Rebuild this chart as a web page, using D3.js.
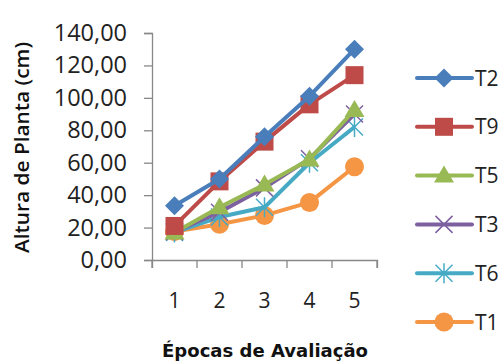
<!DOCTYPE html>
<html>
<head>
<meta charset="utf-8">
<script src="https://cdn.jsdelivr.net/npm/d3@7"></script>
<style>
  html, body { margin: 0; padding: 0; background: #fff; }
  svg { display: block; }
</style>
</head>
<body>
<svg id="chart" width="503" height="361"></svg>
<script>
// Plant height per evaluation period, one series per treatment
const epocas = ["1", "2", "3", "4", "5"];
const seriesNames = ["T2", "T9", "T5", "T3", "T6", "T1"];
const t2 = [33.5, 50.0, 76.0, 101.0, 130.0];
const t9 = [21.0, 48.5, 73.0, 96.0, 114.0];
const t5 = [17.0, 32.5, 46.5, 62.0, 92.5];
const t3 = [17.5, 29.5, 44.5, 62.5, 90.0];
const t6 = [17.0, 26.5, 32.5, 60.0, 82.0];
const t1 = [17.5, 22.0, 27.5, 35.5, 57.5];
const yTicks = [0, 20, 40, 60, 80, 100, 120, 140];

const seriesValues = [t2, t9, t5, t3, t6, t1];
const colors = ["#4a7ebb", "#be4b48", "#98b954", "#7d60a0", "#46aac5", "#f59645"];
const markers = ["diamond", "square", "triangle", "cross", "star", "circle"];

const svg = d3.select("#chart");
const plot = { left: 152, right: 377, top: 33, bottom: 260 };

const x = d3.scaleBand().domain(epocas).range([plot.left, plot.right]);
const y = d3.scaleLinear().domain([0, 140]).range([plot.bottom, plot.top]);

// Axes
const yAxis = d3.axisLeft(y).tickValues(yTicks).tickSize(8).tickPadding(17)
  .tickFormat(d => d3.format(".2f")(d).replace(".", ","));
const gy = svg.append("g").attr("transform", `translate(${plot.left},0)`).call(yAxis);
gy.selectAll("text").attr("font-family", "'Open Sans', sans-serif").attr("font-size", 23.5)
  .attr("fill", "#222");

const xAxis = d3.axisBottom(x).tickSize(8).tickSizeOuter(8).tickPadding(25);
const gx = svg.append("g").attr("transform", `translate(0,${plot.bottom})`).call(xAxis);
gx.selectAll(".tick line").remove();
gx.selectAll("text").attr("font-family", "'Open Sans', sans-serif").attr("font-size", 21)
  .attr("fill", "#222");
// tick marks at category boundaries
gx.selectAll(".bound").data(epocas.concat(["end"])).enter().append("line")
  .attr("x1", (d, i) => plot.left + i * x.bandwidth())
  .attr("x2", (d, i) => plot.left + i * x.bandwidth())
  .attr("y1", 0).attr("y2", 8);

[gx, gy].forEach(g => {
  g.select(".domain").attr("stroke", "#888").attr("stroke-width", 1.3);
  g.selectAll("line").attr("stroke", "#888").attr("stroke-width", 1.3);
});

// Axis titles
svg.append("text")
  .attr("x", 265).attr("y", 357)
  .attr("text-anchor", "middle")
  .attr("font-family", "'DejaVu Sans', sans-serif").attr("font-weight", "bold")
  .attr("font-size", 18).attr("fill", "#111")
  .attr("textLength", 206).attr("lengthAdjust", "spacingAndGlyphs")
  .text("Épocas de Avaliação");

svg.append("text")
  .attr("transform", "translate(29,147.5) rotate(-90)")
  .attr("text-anchor", "middle")
  .attr("font-family", "'Open Sans', sans-serif").attr("font-weight", 600)
  .attr("font-size", 19).attr("fill", "#111")
  .attr("textLength", 211).attr("lengthAdjust", "spacingAndGlyphs")
  .text("Altura de Planta (cm)");

// Marker drawing
function drawMarker(g, type, color, cx, cy) {
  if (type === "diamond") {
    g.append("path").attr("d", `M${cx},${cy - 9.5}L${cx + 9.5},${cy}L${cx},${cy + 9.5}L${cx - 9.5},${cy}Z`)
      .attr("fill", color);
  } else if (type === "square") {
    g.append("rect").attr("x", cx - 9).attr("y", cy - 9).attr("width", 18).attr("height", 18)
      .attr("fill", color);
  } else if (type === "triangle") {
    g.append("path").attr("d", `M${cx},${cy - 10}L${cx + 10},${cy + 7}L${cx - 10},${cy + 7}Z`)
      .attr("fill", color);
  } else if (type === "cross") {
    g.append("path").attr("d", `M${cx - 8.5},${cy - 8.5}L${cx + 8.5},${cy + 8.5}M${cx - 8.5},${cy + 8.5}L${cx + 8.5},${cy - 8.5}`)
      .attr("stroke", color).attr("stroke-width", 1.5).attr("fill", "none");
  } else if (type === "star") {
    g.append("path").attr("d", `M${cx - 8.5},${cy - 8.5}L${cx + 8.5},${cy + 8.5}M${cx - 8.5},${cy + 8.5}L${cx + 8.5},${cy - 8.5}M${cx},${cy - 10}L${cx},${cy + 10}`)
      .attr("stroke", color).attr("stroke-width", 1.5).attr("fill", "none");
  } else if (type === "circle") {
    g.append("circle").attr("cx", cx).attr("cy", cy).attr("r", 9.5).attr("fill", color);
  }
}

const line = d3.line()
  .x((d, i) => x(epocas[i]) + x.bandwidth() / 2)
  .y(d => y(d));

// Series, drawn last-to-first so T2 sits on top
for (let s = seriesValues.length - 1; s >= 0; s--) {
  const g = svg.append("g");
  g.append("path").datum(seriesValues[s]).attr("d", line)
    .attr("fill", "none").attr("stroke", colors[s]).attr("stroke-width", 4)
    .attr("stroke-linejoin", "round");
  seriesValues[s].forEach((v, i) => {
    drawMarker(g, markers[s], colors[s], x(epocas[i]) + x.bandwidth() / 2, y(v));
  });
}

// Legend
const legendY0 = 78, legendStep = 48.8;
seriesNames.forEach((name, s) => {
  const ly = legendY0 + s * legendStep;
  const g = svg.append("g");
  g.append("line").attr("x1", 417).attr("x2", 472).attr("y1", ly).attr("y2", ly)
    .attr("stroke", colors[s]).attr("stroke-width", 4).attr("stroke-linecap", "round");
  drawMarker(g, markers[s], colors[s], 444, ly);
  g.append("text").attr("x", 475).attr("y", ly).attr("dy", "0.36em")
    .attr("font-family", "'Open Sans', sans-serif").attr("font-size", 21).attr("fill", "#222")
    .text(name);
});
</script>
</body>
</html>
